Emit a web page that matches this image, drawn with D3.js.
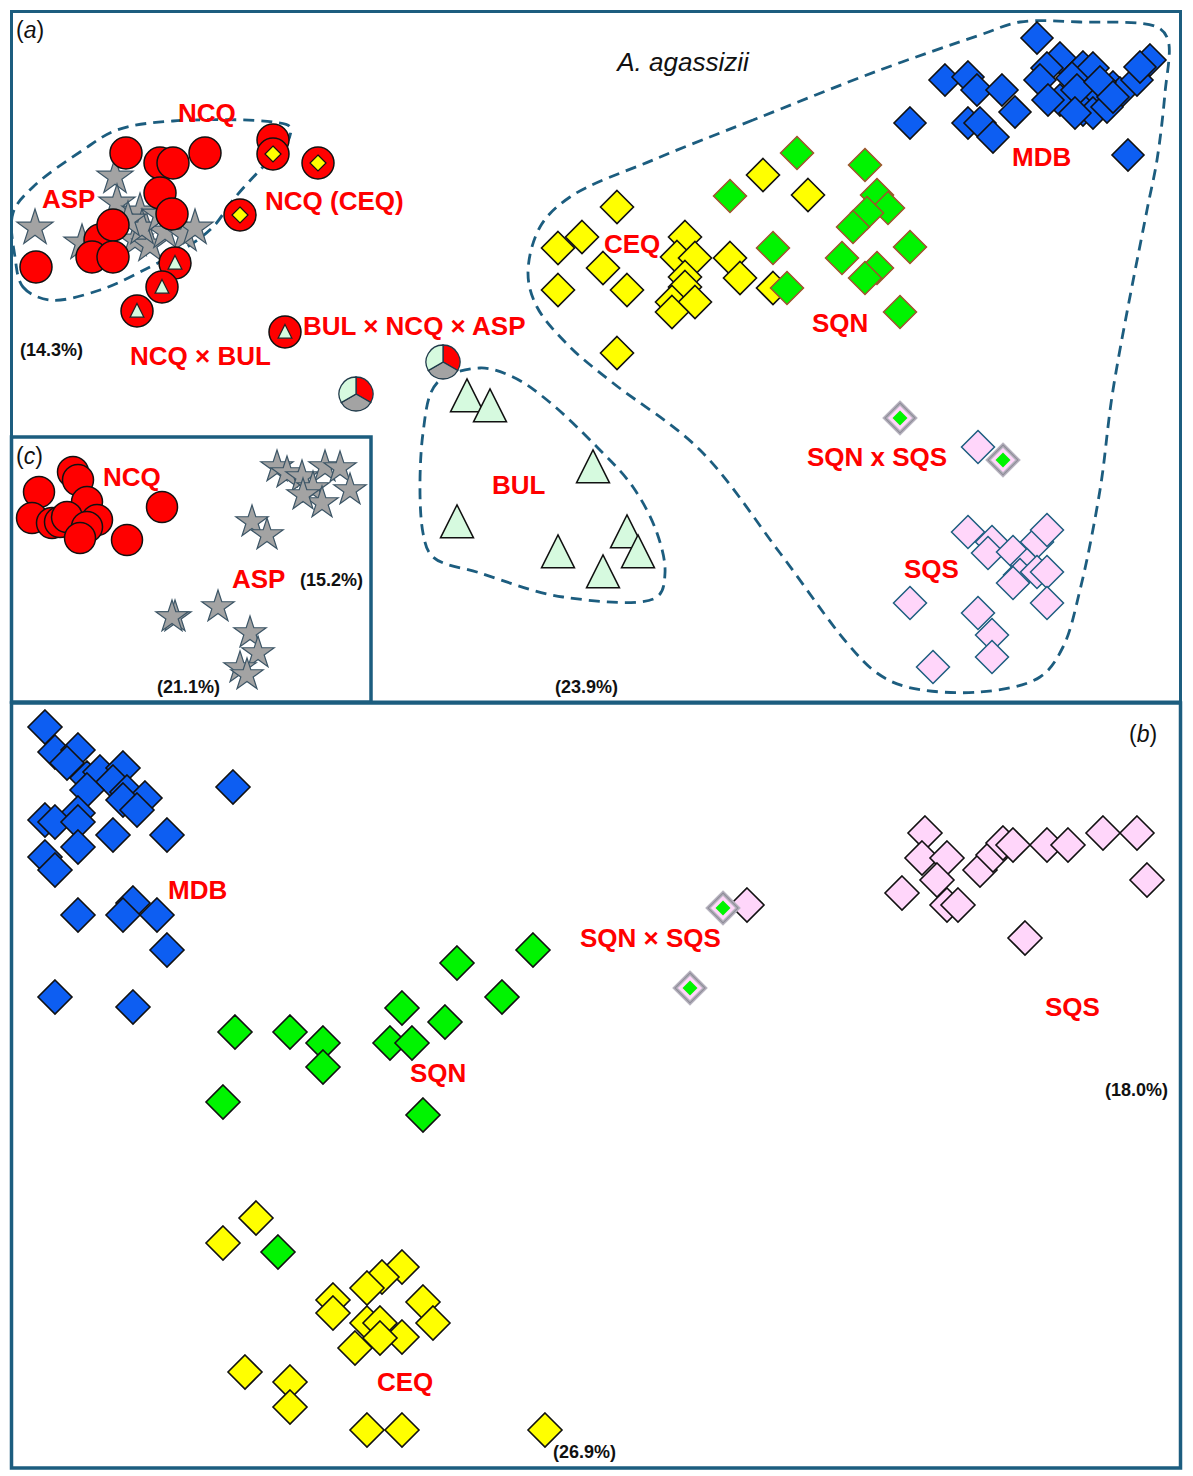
<!DOCTYPE html>
<html>
<head>
<meta charset="utf-8">
<script src="https://cdn.jsdelivr.net/npm/d3@7"></script>
<style>
  body { margin: 0; background: #fff; }
  text { font-family: Arial, "Liberation Sans", sans-serif; }
  .lab { fill: #ff0000; font-weight: bold; font-size: 26px; }
  .pct { fill: #111; font-weight: bold; font-size: 18px; }
</style>
</head>
<body>
<div id="fig"></div>
<script>
// ---- data (ordination scores) ----
// panel (a)
const A_NCQ = [[11.4,54.9],[14.8,53.9],[16.1,53.9],[19.3,54.9],[14.8,50.9],[8.8,46.2],[16.0,48.8],
  [10.1,47.7],[8.0,44.5],[10.1,44.5],[2.4,43.5],[26.1,56.2]];
const A_NCQ_CEQ = [[26.1,54.8],[30.6,53.9],[22.8,48.7]];
const A_NCQ_BUL = [[16.3,43.9],[15.0,41.5],[12.5,39.1],[27.3,37.0]];
const A_PIE = [[34.4,30.8],[43.1,34.0]];
const A_ASP = [[10.3,52.5],[2.3,47.4],[7.0,45.9],[10.5,49.9],[12.8,49.0],[12.3,46.2],[13.8,45.7],
  [15.3,47.0],[17.3,46.7],[18.3,47.4],[13.0,47.4],[14.8,48.7],[11.6,48.2]];
const A_BUL = [[45.5,30.5],[47.8,29.5],[58.1,23.4],[44.5,17.9],[54.6,14.9],[61.5,16.9],[62.6,14.9],[59.1,12.9]];
const A_CEQ = [[60.5,49.5],[54.6,45.4],[57.0,46.5],[59.1,43.4],[54.6,41.2],[61.5,41.2],[67.3,46.5],
  [66.5,44.5],[68.3,44.4],[67.3,42.5],[71.8,44.4],[72.8,42.4],[67.3,41.5],[66.0,40.0],[68.3,40.0],
  [66.0,39.0],[76.1,41.4],[75.1,52.7],[79.6,50.7],[60.5,34.9]];
const A_SQN = [[78.5,54.9],[85.3,53.7],[71.8,50.6],[86.5,50.7],[87.6,49.4],[85.5,48.9],[84.1,47.5],
  [76.1,45.4],[89.8,45.5],[83.0,44.4],[86.5,43.4],[85.3,42.4],[77.5,41.4],[88.8,39.0]];
const A_MDB = [[102.5,66.4],[93.3,62.2],[95.6,62.5],[96.5,61.2],[99.0,61.2],[100.3,59.0],[95.6,57.9],
  [96.8,57.9],[98.1,56.5],[89.8,57.9],[111.6,54.7],[104.8,64.4],[103.5,63.4],[102.8,62.2],[107.1,63.5],
  [108.1,63.4],[106.0,62.4],[104.8,60.2],[103.6,60.2],[108.1,60.2],[107.1,59.2],[108.1,58.9],[110.1,61.5],
  [110.8,60.9],[109.5,59.5],[112.5,62.2],[113.8,64.2],[112.8,63.5],[106.5,61.2],[108.8,62.0],[106.3,58.9],
  [110.1,60.5]];
const A_SQS = [[96.6,25.5],[95.6,17.0],[98.0,16.0],[97.6,14.9],[100.1,15.0],[102.5,16.0],[103.5,17.2],
  [101.5,13.7],[100.8,12.7],[100.1,11.9],[102.5,13.0],[103.5,13.0],[89.8,9.9],[103.5,9.9],[96.6,8.9],
  [98.0,6.7],[98.0,4.5],[92.1,3.5]];
const A_SQNxSQS = [[88.8,28.4],[99.1,24.2]];

// group outlines, panel (a)
const HULL_NCQ_ASP = [[0.3,44.5],[1.1,41.5],[3.8,40.2],[8.8,41.2],[13.8,43.5],[17.5,45.5],[20.1,47.5],
  [22.1,50.2],[24.8,53.2],[27.5,55.9],[27.8,57.5],[26.1,58.0],[16.1,58.1],[10.5,57.2],[7.1,55.2],
  [2.1,51.5],[0.1,48.9]];
const HULL_AGASSIZII = [[86.8,63.2],[74.1,58.2],[64.1,54.2],[55.8,50.5],[52.8,47.5],[51.6,42.9],[52.5,39.5],
  [55.8,35.5],[60.1,31.9],[68.8,25.2],[76.8,14.9],[83.5,5.9],[86.5,2.9],[89.5,1.5],[96.8,1.0],[102.8,2.5],
  [105.1,5.5],[106.8,11.2],[108.8,21.2],[110.1,31.2],[113.5,49.2],[114.5,54.2],[115.3,60.9],[115.6,66.2],
  [114.5,67.5],[106.8,68.0],[100.8,68.0],[96.8,66.7]];
const HULL_BUL = [[46.8,33.4],[42.5,31.9],[41.1,26.9],[41.1,16.9],[42.1,14.5],[46.8,12.9],[55.1,10.5],
  [64.5,10.5],[65.3,12.9],[64.5,16.9],[62.1,21.5],[58.5,25.5],[53.5,30.2],[50.1,32.5]];

// panel (c)
const C_NCQ = [[6.1,23.0],[6.6,22.2],[2.7,21.0],[15.0,19.5],[7.5,20.0],[2.0,18.4],[4.0,17.9],[4.8,18.0],
  [5.5,18.5],[8.5,18.2],[7.5,17.5],[6.8,16.4],[11.5,16.2]];
const C_ASP = [[26.5,23.5],[27.5,22.9],[29.0,22.5],[31.3,23.5],[32.8,23.4],[30.1,21.4],[31.0,19.9],
  [33.8,21.2],[29.1,20.7],[24.0,18.0],[25.5,16.7],[16.3,8.5],[16.0,8.5],[20.6,9.5],[23.8,6.9],[24.6,4.9],
  [22.8,3.4],[23.5,2.7]];

// panel (b)
const B_MDB = [[3.3,74.1],[4.3,71.6],[6.6,71.8],[5.5,70.5],[7.5,69.0],[8.8,69.6],[11.1,70.0],[10.1,68.6],
  [7.5,67.8],[11.5,67.6],[13.3,67.0],[11.1,66.8],[12.5,65.8],[6.6,65.5],[3.3,64.8],[4.3,64.6],[6.6,64.6],
  [10.1,63.3],[15.5,63.3],[6.6,62.1],[3.3,61.1],[4.3,59.8],[22.1,68.1],[6.6,55.3],[12.1,56.5],[11.1,55.3],
  [14.5,55.3],[15.5,51.8],[4.3,47.1],[12.1,46.1]];
const B_SQN = [[52.1,51.8],[44.5,50.5],[49.0,47.1],[39.0,46.0],[43.3,44.6],[22.3,43.6],[27.8,43.6],
  [31.1,42.5],[31.1,40.1],[37.8,42.5],[40.0,42.5],[21.1,36.6],[41.1,35.3],[26.6,21.6]];
const B_CEQ = [[24.4,25.0],[21.1,22.5],[39.0,20.1],[37.0,19.1],[35.5,18.0],[32.1,16.8],[32.1,15.5],
  [41.1,16.6],[42.1,14.5],[35.5,14.5],[36.8,14.5],[39.0,13.1],[36.8,13.0],[34.3,12.0],[23.3,9.6],
  [27.8,8.6],[27.8,6.1],[35.5,3.8],[39.0,3.8],[53.3,3.8]];
const B_SQS = [[91.3,63.5],[91.0,61.0],[93.5,61.0],[92.5,58.8],[89.0,57.5],[93.5,56.3],[94.6,56.3],
  [96.8,59.8],[98.1,61.3],[99.1,62.5],[100.1,62.3],[103.5,62.3],[105.6,62.3],[109.1,63.5],[112.5,63.5],
  [113.5,58.8],[101.3,53.0],[73.5,56.3]];
const B_SQNxSQS = [[71.1,56.0],[67.8,48.0]];

// text labels: [text, x, y]
const A_LABELS = [["NCQ",16.6,58.0],["ASP",3.0,49.4],["NCQ (CEQ)",25.3,49.2],["BUL × NCQ × ASP",29.1,36.7],
  ["NCQ × BUL",11.8,33.7],["CEQ",59.2,44.9],["MDB",100.0,53.6],["SQN",80.0,37.0],["SQN x SQS",79.5,23.6],
  ["SQS",89.2,12.4],["BUL",48.0,20.8]];
const A_PCT = [["(14.3%)",0.8,34.6],["(23.9%)",54.3,0.9]];
const C_LABELS = [["NCQ",9.1,21.6],["ASP",22.0,11.4]];
const C_PCT = [["(15.2%)",28.8,11.6],["(21.1%)",14.5,0.9]];
const B_LABELS = [["MDB",15.6,56.9],["SQN × SQS",56.8,52.1],["SQN",39.8,38.6],["SQS",103.3,45.2],["CEQ",36.5,7.7]];
const B_PCT = [["(18.0%)",109.3,37.2],["(26.9%)",54.1,1.0]];

// ---- frame ----
const F_WIDTH = 1193;
const F_HEIGHT = 1476;
const BORDER = "#1c5d7f";

const RED = "#ff0000", GREY = "#a3a3a3", MINT = "#d6fadf", YELLOW = "#ffff00",
      GREEN = "#00f400", BLUE = "#0d5ef2", PINK = "#ffd6fa";

const SVG = d3.select("#fig").append("svg")
  .attr("width", F_WIDTH)
  .attr("height", F_HEIGHT);

// custom symbols
const diamond = {
  draw(ctx, size) {
    const h = Math.sqrt(size / 2);
    ctx.moveTo(0, -h); ctx.lineTo(h, 0); ctx.lineTo(0, h); ctx.lineTo(-h, 0); ctx.closePath();
  }
};
const triangle = {
  draw(ctx, size) {
    const s = Math.sqrt(size);
    ctx.moveTo(0, -s * 0.55); ctx.lineTo(s * 0.5, s * 0.45); ctx.lineTo(-s * 0.5, s * 0.45); ctx.closePath();
  }
};
const dsize = (h) => 2 * h * h;
const ssize = (r) => r * r / 0.8908130915292852;

function symbols(g, data, X, Y, type, size, fill, stroke, sw) {
  g.append("g").selectAll("path")
    .data(data)
    .enter()
    .append("path")
      .attr("transform", (d) => "translate(" + X(d[0]) + "," + Y(d[1]) + ")")
      .attr("d", d3.symbol().type(type).size(size))
      .attr("fill", fill)
      .attr("stroke", stroke)
      .attr("stroke-width", sw);
}

function circles(g, data, X, Y, r) {
  g.append("g").selectAll("circle")
    .data(data)
    .enter()
    .append("circle")
      .attr("cx", (d) => X(d[0]))
      .attr("cy", (d) => Y(d[1]))
      .attr("r", r)
      .attr("fill", RED)
      .attr("stroke", "#111")
      .attr("stroke-width", 1.5);
}

function hull(g, pts, X, Y) {
  g.append("path")
    .attr("d", d3.line().x((d) => X(d[0])).y((d) => Y(d[1])).curve(d3.curveCatmullRomClosed.alpha(0.5))(pts))
    .attr("fill", "none")
    .attr("stroke", BORDER)
    .attr("stroke-width", 2.8)
    .attr("stroke-dasharray", "11,7");
}

function labels(g, data, X, Y, cls) {
  g.append("g").selectAll("text")
    .data(data)
    .enter()
    .append("text")
      .attr("class", cls)
      .attr("x", (d) => X(d[1]))
      .attr("y", (d) => Y(d[2]))
      .text((d) => d[0]);
}

function hybrids(g, data, X, Y) {
  symbols(g, data, X, Y, diamond, dsize(15), PINK, "#b7b3bf", 4);
  symbols(g, data, X, Y, diamond, dsize(15), "none", "#8f8d99", 1.2);
  symbols(g, data, X, Y, diamond, dsize(7.5), GREEN, "none", 0);
}

function panelTag(g, x, y, letter) {
  const t = g.append("text").attr("x", x).attr("y", y).attr("font-size", 23).attr("fill", "#111");
  t.append("tspan").text("(");
  t.append("tspan").attr("font-style", "italic").text(letter);
  t.append("tspan").text(")");
}

// ---- panel (a) ----
function panelA() {
  const X = d3.scaleLinear().domain([0, 116.8]).range([12, 1180]);
  const Y = d3.scaleLinear().domain([0, 69]).range([702, 12]);
  const G = SVG.append("g");

  hull(G, HULL_NCQ_ASP, X, Y);
  hull(G, HULL_AGASSIZII, X, Y);
  hull(G, HULL_BUL, X, Y);

  symbols(G, A_ASP, X, Y, d3.symbolStar, ssize(19), GREY, "#3c5566", 1.2);
  circles(G, A_NCQ, X, Y, 16);
  circles(G, A_NCQ_CEQ, X, Y, 16);
  symbols(G, A_NCQ_CEQ, X, Y, diamond, dsize(8), YELLOW, "#111", 1.2);
  circles(G, A_NCQ_BUL, X, Y, 16);
  symbols(G, A_NCQ_BUL, X, Y, triangle, 190, MINT, "#222", 1.2);

  // three-way hybrids as pies
  const pie = d3.pie().sort(null).value((d) => d.v);
  const arc = d3.arc().innerRadius(0).outerRadius(17);
  const slices = [{v: 1, c: RED}, {v: 1, c: GREY}, {v: 1, c: MINT}];
  const P = G.append("g").selectAll("g")
    .data(A_PIE)
    .enter()
    .append("g")
      .attr("transform", (d) => "translate(" + X(d[0]) + "," + Y(d[1]) + ")");
  P.selectAll("path")
    .data(pie(slices))
    .enter()
    .append("path")
      .attr("d", arc)
      .attr("fill", (d) => d.data.c)
      .attr("stroke", "#1f3a4a")
      .attr("stroke-width", 1.3);

  symbols(G, A_BUL, X, Y, triangle, 33 * 33, MINT, "#111", 1.5);
  symbols(G, A_CEQ, X, Y, diamond, dsize(16.5), YELLOW, "#111", 1.6);
  symbols(G, A_SQN, X, Y, diamond, dsize(16.5), GREEN, "#a0522d", 1.5);
  symbols(G, A_MDB, X, Y, diamond, dsize(16), BLUE, "#111", 1.6);
  symbols(G, A_SQS, X, Y, diamond, dsize(16.5), PINK, "#1c5d7f", 1.5);
  hybrids(G, A_SQNxSQS, X, Y);

  labels(G, A_LABELS, X, Y, "lab");
  labels(G, A_PCT, X, Y, "pct");

  G.append("text")
    .attr("x", 683).attr("y", 71)
    .attr("text-anchor", "middle")
    .attr("font-size", 26)
    .attr("font-style", "italic")
    .attr("fill", "#111")
    .text("A. agassizii");
  panelTag(G, 16, 38, "a");

  G.append("rect")
    .attr("x", 11.5).attr("y", 11.5).attr("width", 1169).attr("height", 690.5)
    .attr("fill", "none").attr("stroke", BORDER).attr("stroke-width", 3);
}

// ---- panel (c), inset ----
function panelC() {
  const X = d3.scaleLinear().domain([0, 36]).range([12, 372]);
  const Y = d3.scaleLinear().domain([0, 26.6]).range([702, 436]);
  const G = SVG.append("g");

  G.append("rect")
    .attr("x", 12).attr("y", 437).attr("width", 359).attr("height", 265)
    .attr("fill", "#fff");

  circles(G, C_NCQ, X, Y, 15.5);
  symbols(G, C_ASP, X, Y, d3.symbolStar, ssize(17), GREY, "#3c5566", 1.2);

  labels(G, C_LABELS, X, Y, "lab");
  labels(G, C_PCT, X, Y, "pct");
  panelTag(G, 16, 464, "c");

  G.append("rect")
    .attr("x", 11.5).attr("y", 437).attr("width", 359.5).attr("height", 265)
    .attr("fill", "none").attr("stroke", BORDER).attr("stroke-width", 3.5);
}

// ---- panel (b) ----
function panelB() {
  const X = d3.scaleLinear().domain([0, 116.8]).range([12, 1180]);
  const Y = d3.scaleLinear().domain([0, 76.6]).range([1468, 702]);
  const G = SVG.append("g");

  symbols(G, B_MDB, X, Y, diamond, dsize(17), BLUE, "#111", 1.6);
  symbols(G, B_SQN, X, Y, diamond, dsize(17), GREEN, "#111", 1.6);
  symbols(G, B_CEQ, X, Y, diamond, dsize(17), YELLOW, "#111", 1.6);
  symbols(G, B_SQS, X, Y, diamond, dsize(17), PINK, "#111", 1.6);
  hybrids(G, B_SQNxSQS, X, Y);

  labels(G, B_LABELS, X, Y, "lab");
  labels(G, B_PCT, X, Y, "pct");
  panelTag(G, 1129, 742, "b");

  G.append("rect")
    .attr("x", 11.5).attr("y", 703).attr("width", 1169).attr("height", 765)
    .attr("fill", "none").attr("stroke", BORDER).attr("stroke-width", 3.5);
}

panelA();
panelC();
panelB();
</script>
</body>
</html>
